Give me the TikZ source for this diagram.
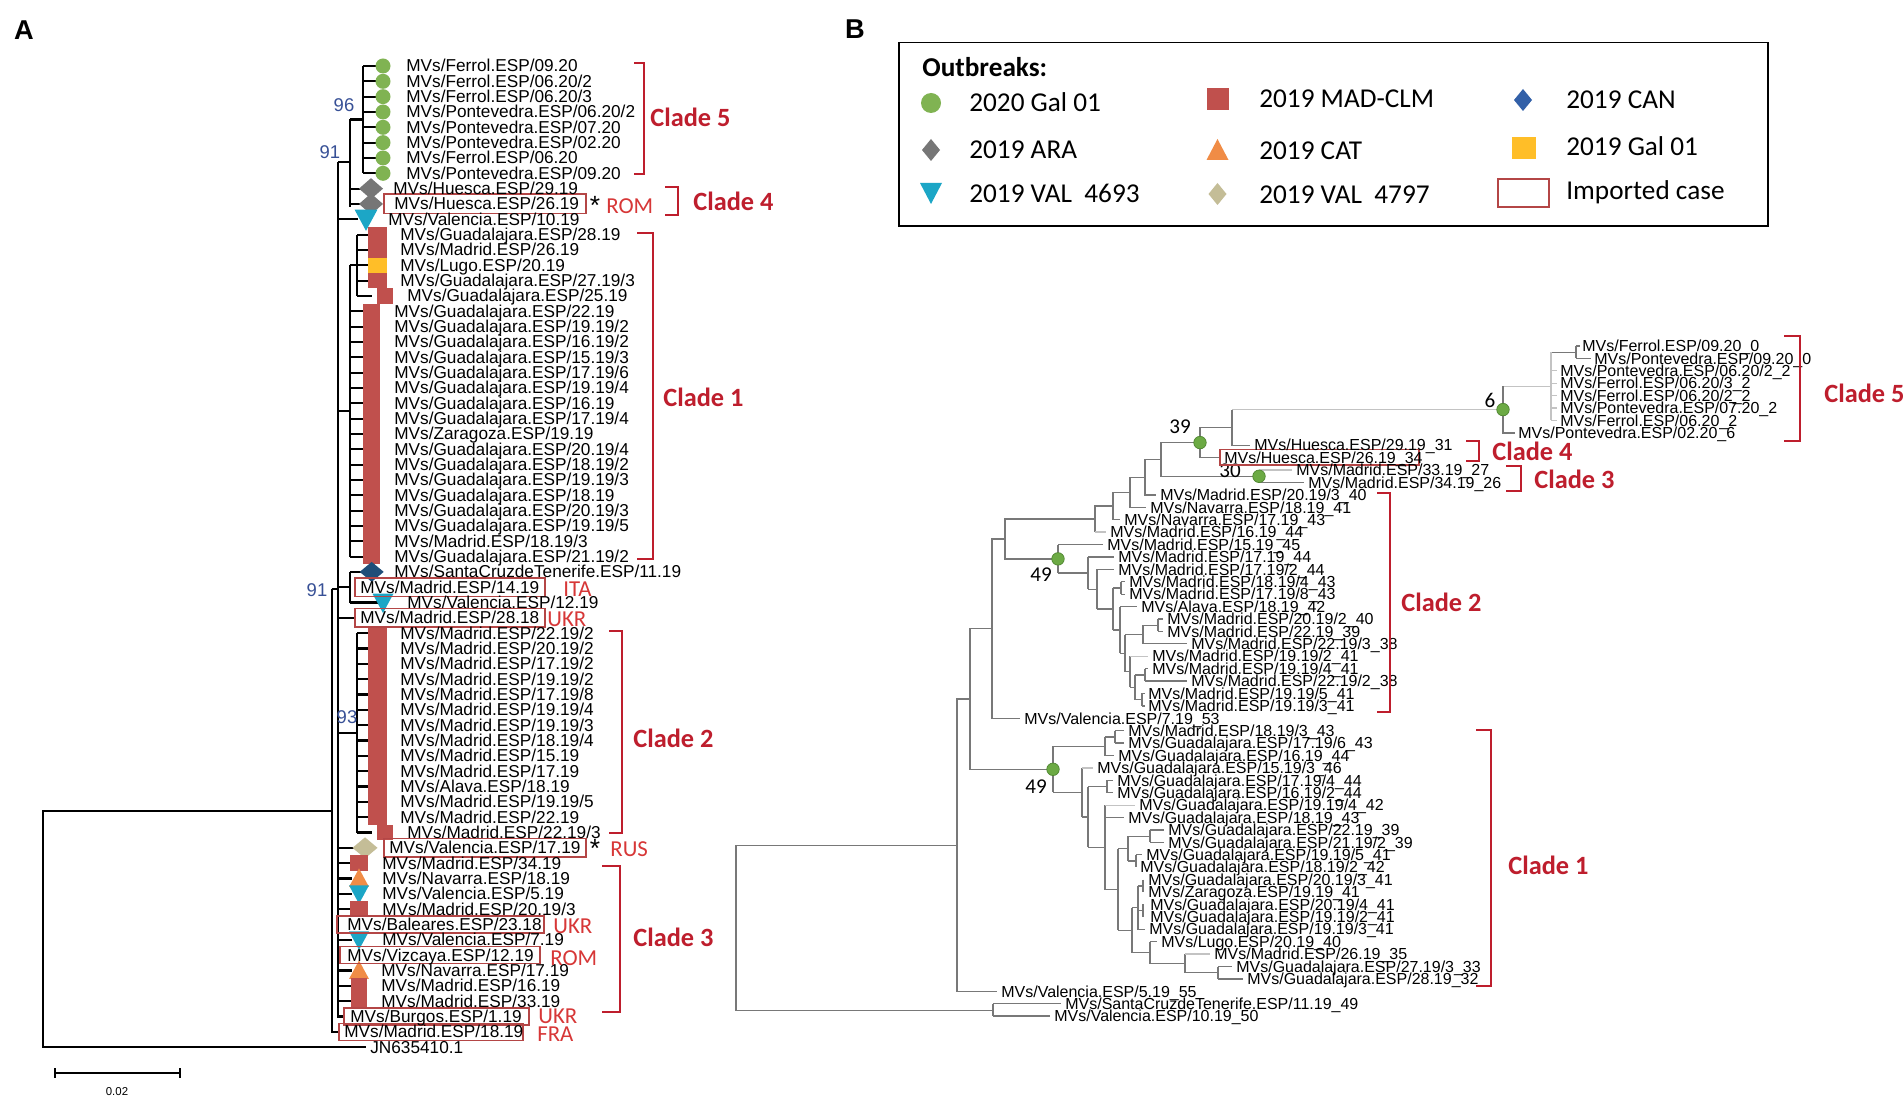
\documentclass[tikz,border=0pt]{standalone}
\usepackage{fontspec}
\setmainfont{Liberation Sans}
\newfontfamily\calfont{Carlito}
\definecolor{cgreen}{RGB}{128,179,82}
\definecolor{cgray}{RGB}{118,118,118}
\definecolor{ccyan}{RGB}{28,166,198}
\definecolor{cred}{RGB}{192,80,77}
\definecolor{cyellow}{RGB}{255,190,40}
\definecolor{cnavy}{RGB}{31,78,121}
\definecolor{cblue}{RGB}{50,96,168}
\definecolor{ctan}{RGB}{196,189,151}
\definecolor{corange}{RGB}{240,140,70}
\definecolor{cdred}{RGB}{190,30,45}
\definecolor{cann}{RGB}{215,55,55}
\definecolor{cbox}{RGB}{180,70,70}
\definecolor{cboot}{RGB}{55,80,150}
\definecolor{cbl}{RGB}{120,120,120}
\definecolor{cbll}{RGB}{195,195,195}
\definecolor{cdot}{RGB}{108,170,68}
\definecolor{cdotb}{RGB}{80,135,50}
\pgfmathdeclarefunction{ra}{1}{\pgfmathparse{66+(#1-1)*15.33}}
\pgfmathdeclarefunction{rb}{1}{\pgfmathparse{346+(#1-1)*12.41}}
\tikzset{
 tA/.style={line width=1.2pt, black},
 tB/.style={line width=0.75pt, cbl},
 tBl/.style={line width=0.75pt, cbll},
 labA/.style={font=\fontsize{9.8}{10}\selectfont, anchor=base west, inner sep=0pt},
 labB/.style={font=\fontsize{9.1}{9.5}\selectfont, anchor=base west, inner sep=0pt},
 boxA/.style={draw=cbox, line width=0.8pt},
 brk/.style={draw=cdred, line width=1.6pt},
 clade/.style={font=\calfont\bfseries\fontsize{15}{18}\selectfont, text=cdred, anchor=west, inner sep=0pt},
 ann/.style={font=\calfont\fontsize{13}{15}\selectfont, text=cann, anchor=west, inner sep=0pt},
 star/.style={font=\fontsize{15}{17}\selectfont, inner sep=0pt},
 boot/.style={font=\fontsize{10.5}{11}\selectfont, text=cboot, inner sep=0pt},
 bootB/.style={font=\calfont\fontsize{12}{14}\selectfont, inner sep=0pt},
 legt/.style={font=\calfont\fontsize{15.5}{18}\selectfont, anchor=base west, inner sep=0pt},
 gdotB/.style={circle, fill=cdot, draw=cdotb, line width=0.4pt, minimum size=0.25cm, inner sep=0pt},
}
\newcommand\leafA[3]{\node[labA] (a#2) at (#1,{ra(#2)+6}) {#3};}
\newcommand\leafB[3]{\node[labB] (b#2) at (#1,{rb(#2)+5.7}) {#3};}
\newcommand\symdia[5]{\fill[#5] ({#1-#3},{ra(#2)}) -- (#1,{ra(#2)-#4}) -- ({#1+#3},{ra(#2)}) -- (#1,{ra(#2)+#4}) -- cycle;}
\newcommand\symtd[4]{\fill[#4] ({#1-#3},{ra(#2)-0.85*#3}) -- ({#1+#3},{ra(#2)-0.85*#3}) -- (#1,{ra(#2)+#3}) -- cycle;}
\newcommand\symtu[4]{\fill[#4] ({#1-#3},{ra(#2)+0.85*#3}) -- ({#1+#3},{ra(#2)+0.85*#3}) -- (#1,{ra(#2)-#3}) -- cycle;}
\newcommand\brkt[4]{\draw[brk] (#2,#3) -- (#1,#3) -- (#1,#4) -- (#2,#4);}
\begin{document}
\begin{tikzpicture}[x=0.02cm,y=-0.02cm]
\fill[white] (0,0) rectangle (1904,1104);
\useasboundingbox (0,0) rectangle (1904,1104);

% ---------------- panel labels
\node[font=\bfseries\fontsize{15.5}{18}\selectfont, inner sep=0pt] (pA) at (24,30) {A};
\node[font=\bfseries\fontsize{15.5}{18}\selectfont, inner sep=0pt] (pB) at (855,29) {B};

% ================= PANEL A tree
\draw[tA] (331.7,810.6) -- (43,810.6) -- (43,{ra(65)}) -- (366,{ra(65)});
\draw[tA] (331.7,589.3) -- (331.7,{ra(64)}) -- (339,{ra(64)});
\draw[tA] (331.7,589.3) -- (338,589.3);
\draw[tA] (338,162) -- (338,{ra(63)}) -- (344,{ra(63)});
% clade 5/4 group
\draw[tA] (338,162) -- (350,162);
\draw[tA] (350,119.5) -- (350,{ra(10)+3});
\draw[tA] (350,119.5) -- (363,119.5);
\draw[tA] (363,{ra(1)}) -- (363,{ra(8)});
\foreach \rr in {1,...,8} \draw[tA] (363,{ra(\rr)}) -- (378,{ra(\rr)});
\draw[tA] (350,{ra(9)}) -- (362,{ra(9)});
\draw[tA] (350,{ra(10)}) -- (362,{ra(10)});
\draw[tA] (338,{ra(11)}) -- (358,{ra(11)});
% clade 1 group
\draw[tA] (338,411) -- (350,411);
\draw[tA] (350,265.3) -- (350,{ra(33)});
\draw[tA] (350,265.3) -- (357,265.3);
\draw[tA] (357,{ra(12)}) -- (357,{ra(16)});
\foreach \rr in {12,...,16} \draw[tA] (357,{ra(\rr)}) -- (372,{ra(\rr)});
\foreach \rr in {17,...,33} \draw[tA] (350,{ra(\rr)}) -- (365,{ra(\rr)});
% Santa Cruz / Madrid 14.19 / Valencia 12.19
\draw[tA] (338,{ra(35)}) -- (350,{ra(35)});
\draw[tA] (350,{ra(34)}) -- (350,{ra(36)});
\draw[tA] (350,{ra(34)}) -- (362,{ra(34)});
\draw[tA] (350,{ra(36)}) -- (378,{ra(36)});
\draw[tA] (338,{ra(37)}) -- (355,{ra(37)});
% clade 2
\draw[tA] (338,732.9) -- (357,732.9);
\draw[tA] (357,{ra(38)}) -- (357,{ra(51)});
\foreach \rr in {38,...,51} \draw[tA] (357,{ra(\rr)}) -- (372,{ra(\rr)});
% clade 3 area
\draw[tA] (338,{ra(52)}) -- (355,{ra(52)});
\foreach \rr in {53,54,55,56,58,60,61,62} \draw[tA] (338,{ra(\rr)}) -- (352,{ra(\rr)});

% bootstrap values
\node[boot] (bs96) at (344,105) {96};
\node[boot] (bs91a) at (330,152) {91};
\node[boot] (bs91b) at (317,590) {91};
\node[boot] (bs93) at (347,717) {93};

% symbols panel A
\foreach \rr in {1,...,8} \fill[cgreen] (383,{ra(\rr)}) circle[radius=0.15cm];
\symdia{371}{9}{12}{10.5}{cgray}
\symdia{371}{10}{12}{10.5}{cgray}
\symtd{366}{11}{11.5}{ccyan}
\fill[cred] (368,{ra(12)-7.7}) rectangle (387,{ra(15)+7.7});
\fill[cyellow] (368,{ra(14)-7.7}) rectangle (387,{ra(14)+7.7});
\fill[cred] (377,{ra(16)-7.7}) rectangle (393,{ra(16)+7.7});
\fill[cred] (362.7,{ra(17)-7.7}) rectangle (380,{ra(33)+7.7});
\symdia{371.7}{34}{12}{10}{cnavy}
\symtd{383}{36}{10.5}{ccyan}
\fill[cred] (368,{ra(38)-7.7}) rectangle (387,{ra(50)+7.7});
\fill[cred] (377,{ra(51)-7.7}) rectangle (393,{ra(51)+7.7});
\symdia{365}{52}{12.5}{10.5}{ctan}
\fill[cred] (350,{ra(53)-8}) rectangle (368,{ra(53)+8});
\symtu{359}{54}{10}{corange}
\symtd{359}{55}{10}{ccyan}
\fill[cred] (350,{ra(56)-8}) rectangle (368,{ra(56)+8});
\symtd{359}{58}{10}{ccyan}
\symtu{359}{60}{10}{corange}
\fill[cred] (351,{ra(61)-8}) rectangle (367,{ra(62)+8});

% imported boxes panel A
\draw[boxA] (384,{ra(10)-9.8}) rectangle (586,{ra(10)+9.8});
\draw[boxA] (355,{ra(35)-9.3}) rectangle (545,{ra(35)+9.3});
\draw[boxA] (355,{ra(37)-9.3}) rectangle (545,{ra(37)+9.3});
\draw[boxA] (384,{ra(52)-9.3}) rectangle (586,{ra(52)+9.3});
\draw[boxA] (337,{ra(57)-8.5}) rectangle (544,{ra(57)+8.5});
\draw[boxA] (340,{ra(59)-8.5}) rectangle (540,{ra(59)+8.5});
\draw[boxA] (344,{ra(63)-8.5}) rectangle (529,{ra(63)+8.5});
\draw[boxA] (339,{ra(64)-8.5}) rectangle (523,{ra(64)+8.5});

% leaves panel A
\leafA{406}{1}{MVs/Ferrol.ESP/09.20}
\leafA{406}{2}{MVs/Ferrol.ESP/06.20/2}
\leafA{406}{3}{MVs/Ferrol.ESP/06.20/3}
\leafA{406}{4}{MVs/Pontevedra.ESP/06.20/2}
\leafA{406}{5}{MVs/Pontevedra.ESP/07.20}
\leafA{406}{6}{MVs/Pontevedra.ESP/02.20}
\leafA{406}{7}{MVs/Ferrol.ESP/06.20}
\leafA{406}{8}{MVs/Pontevedra.ESP/09.20}
\leafA{393}{9}{MVs/Huesca.ESP/29.19}
\leafA{394}{10}{MVs/Huesca.ESP/26.19}
\leafA{388}{11}{MVs/Valencia.ESP/10.19}
\leafA{400}{12}{MVs/Guadalajara.ESP/28.19}
\leafA{400}{13}{MVs/Madrid.ESP/26.19}
\leafA{400}{14}{MVs/Lugo.ESP/20.19}
\leafA{400}{15}{MVs/Guadalajara.ESP/27.19/3}
\leafA{407}{16}{MVs/Guadalajara.ESP/25.19}
\leafA{394}{17}{MVs/Guadalajara.ESP/22.19}
\leafA{394}{18}{MVs/Guadalajara.ESP/19.19/2}
\leafA{394}{19}{MVs/Guadalajara.ESP/16.19/2}
\leafA{394}{20}{MVs/Guadalajara.ESP/15.19/3}
\leafA{394}{21}{MVs/Guadalajara.ESP/17.19/6}
\leafA{394}{22}{MVs/Guadalajara.ESP/19.19/4}
\leafA{394}{23}{MVs/Guadalajara.ESP/16.19}
\leafA{394}{24}{MVs/Guadalajara.ESP/17.19/4}
\leafA{394}{25}{MVs/Zaragoza.ESP/19.19}
\leafA{394}{26}{MVs/Guadalajara.ESP/20.19/4}
\leafA{394}{27}{MVs/Guadalajara.ESP/18.19/2}
\leafA{394}{28}{MVs/Guadalajara.ESP/19.19/3}
\leafA{394}{29}{MVs/Guadalajara.ESP/18.19}
\leafA{394}{30}{MVs/Guadalajara.ESP/20.19/3}
\leafA{394}{31}{MVs/Guadalajara.ESP/19.19/5}
\leafA{394}{32}{MVs/Madrid.ESP/18.19/3}
\leafA{394}{33}{MVs/Guadalajara.ESP/21.19/2}
\leafA{394}{34}{MVs/SantaCruzdeTenerife.ESP/11.19}
\leafA{360}{35}{MVs/Madrid.ESP/14.19}
\leafA{407}{36}{MVs/Valencia.ESP/12.19}
\leafA{360}{37}{MVs/Madrid.ESP/28.18}
\leafA{400}{38}{MVs/Madrid.ESP/22.19/2}
\leafA{400}{39}{MVs/Madrid.ESP/20.19/2}
\leafA{400}{40}{MVs/Madrid.ESP/17.19/2}
\leafA{400}{41}{MVs/Madrid.ESP/19.19/2}
\leafA{400}{42}{MVs/Madrid.ESP/17.19/8}
\leafA{400}{43}{MVs/Madrid.ESP/19.19/4}
\leafA{400}{44}{MVs/Madrid.ESP/19.19/3}
\leafA{400}{45}{MVs/Madrid.ESP/18.19/4}
\leafA{400}{46}{MVs/Madrid.ESP/15.19}
\leafA{400}{47}{MVs/Madrid.ESP/17.19}
\leafA{400}{48}{MVs/Alava.ESP/18.19}
\leafA{400}{49}{MVs/Madrid.ESP/19.19/5}
\leafA{400}{50}{MVs/Madrid.ESP/22.19}
\leafA{407}{51}{MVs/Madrid.ESP/22.19/3}
\leafA{389}{52}{MVs/Valencia.ESP/17.19}
\leafA{382}{53}{MVs/Madrid.ESP/34.19}
\leafA{382}{54}{MVs/Navarra.ESP/18.19}
\leafA{382}{55}{MVs/Valencia.ESP/5.19}
\leafA{382}{56}{MVs/Madrid.ESP/20.19/3}
\leafA{347}{57}{MVs/Baleares.ESP/23.18}
\leafA{382}{58}{MVs/Valencia.ESP/7.19}
\leafA{347}{59}{MVs/Vizcaya.ESP/12.19}
\leafA{381}{60}{MVs/Navarra.ESP/17.19}
\leafA{381}{61}{MVs/Madrid.ESP/16.19}
\leafA{381}{62}{MVs/Madrid.ESP/33.19}
\leafA{350}{63}{MVs/Burgos.ESP/1.19}
\leafA{344}{64}{MVs/Madrid.ESP/18.19}
\leafA{370}{65}{JN635410.1}

% annotations panel A
\node[star] (st1) at (595,{ra(10)+1}) {*};
\node[ann] (an1) at (606,{ra(10)+2}) {ROM};
\node[ann] (an2) at (563,{ra(35)+2}) {ITA};
\node[ann] (an3) at (547,{ra(37)+1}) {UKR};
\node[star] (st2) at (595,{ra(52)+1}) {*};
\node[ann] (an4) at (610,{ra(52)+1}) {RUS};
\node[ann] (an5) at (553,{ra(57)+2}) {UKR};
\node[ann] (an6) at (550,{ra(59)+3}) {ROM};
\node[ann] (an7) at (538,{ra(63)+0}) {UKR};
\node[ann] (an8) at (537,{ra(64)+2}) {FRA};

% clade brackets panel A
\brkt{644}{634}{63}{174}
\brkt{678}{665}{187}{215}
\brkt{653}{637}{233}{559}
\brkt{622}{609}{631}{833}
\brkt{620}{602}{866}{1012}
\node[clade] (ca5) at (650,117) {Clade 5};
\node[clade] (ca4) at (693,201) {Clade 4};
\node[clade] (ca1) at (663,397) {Clade 1};
\node[clade] (ca2) at (633,738) {Clade 2};
\node[clade] (ca3) at (633,937) {Clade 3};

% scale bar
\draw[line width=1.3pt] (55,1073) -- (180,1073);
\draw[line width=0.9pt] (55,1068) -- (55,1078);
\draw[line width=0.9pt] (180,1068) -- (180,1078);
\node[font=\fontsize{6.5}{7}\selectfont, inner sep=0pt] (scl) at (117,1092) {0.02};

% ================= LEGEND
\draw[line width=1.1pt] (898.6,42.5) rectangle (1768,225.9);
\node[font=\calfont\bfseries\fontsize{15.5}{18}\selectfont, anchor=west, inner sep=0pt] (lgt) at (922,67) {Outbreaks:};
\fill[cgreen] (931,103) circle[radius=0.2cm];
\node[legt] (l1) at (969,111.5) {2020 Gal 01};
\fill[cred] (1207,88) rectangle (1229,110);
\node[legt] (l2) at (1259,107.5) {2019 MAD-CLM};
\fill[cblue] (1514,100) -- (1523,89) -- (1532,100) -- (1523,111) -- cycle;
\node[legt] (l3) at (1566,108.5) {2019 CAN};
\fill[cgray] (922,150) -- (931,139) -- (940,150) -- (931,161) -- cycle;
\node[legt] (l4) at (969,158.5) {2019 ARA};
\fill[corange] (1206.5,160) -- (1228.5,160) -- (1217.5,139) -- cycle;
\node[legt] (l5) at (1259,160) {2019 CAT};
\fill[cyellow] (1512,137) rectangle (1536,159);
\node[legt] (l6) at (1566,155.5) {2019 Gal 01};
\fill[ccyan] (920,183) -- (942,183) -- (931,204) -- cycle;
\node[legt] (l7) at (969,202.5) {2019 VAL\ \ 4693};
\fill[ctan] (1208.5,194) -- (1217.5,183) -- (1226.5,194) -- (1217.5,205) -- cycle;
\node[legt] (l8) at (1259,204) {2019 VAL\ \ 4797};
\draw[boxA] (1498,179) rectangle (1549,207);
\node[legt] (l9) at (1566,200) {Imported case};

% ================= PANEL B tree
% clade 5
\draw[tB] (1576,{rb(1)}) -- (1576,{rb(2)});
\draw[tB] (1576,{rb(1)}) -- (1580,{rb(1)});
\draw[tB] (1576,{rb(2)}) -- (1591,{rb(2)});
\draw[tB] (1551,352.2) -- (1576,352.2);
\draw[tBl] (1551,352.2) -- (1551,{rb(7)});
\foreach \rr in {3,...,7} \draw[tBl] (1551,{rb(\rr)}) -- (1557,{rb(\rr)});
\draw[tBl] (1503,386.3) -- (1551,386.3);
\draw[tB] (1503,386.3) -- (1503,{rb(8)}) -- (1515,{rb(8)});
% 39 / 30 groups
\draw[tBl] (1232,409.6) -- (1503,409.6);
\draw[tB] (1232,409.6) -- (1232,{rb(9)}) -- (1250,{rb(9)});
\draw[tB] (1200,427.5) -- (1232,427.5);
\draw[tB] (1200,427.5) -- (1200,{rb(10)}) -- (1220,{rb(10)});
\draw[tBl] (1259,{rb(11)}) -- (1292,{rb(11)});
\draw[tB] (1259,{rb(11)}) -- (1259,{rb(12)}) -- (1304,{rb(12)});
\draw[tB] (1200,442.6) -- (1161,442.6) -- (1161,476.3) -- (1259,476.3);
\draw[tB] (1161,459.5) -- (1145,459.5) -- (1145,{rb(13)}) -- (1156,{rb(13)});
\draw[tB] (1145,477.2) -- (1130,477.2) -- (1130,{rb(14)}) -- (1146,{rb(14)});
\draw[tB] (1130,492.3) -- (1113,492.3) -- (1113,{rb(15)}) -- (1120,{rb(15)});
\draw[tB] (1113,506) -- (1095,506) -- (1095,{rb(16)});
\draw[tBl] (1095,{rb(16)}) -- (1106,{rb(16)});
\draw[tB] (1095,519.1) -- (1005,519.1) -- (1005,558.9) -- (1058,558.9);
% clade 2
\draw[tB] (1058,{rb(17)}) -- (1058,573.1);
\draw[tB] (1058,{rb(17)}) -- (1103,{rb(17)});
\draw[tB] (1058,573.1) -- (1088,573.1);
\draw[tB] (1088,{rb(18)}) -- (1088,589.2);
\draw[tB] (1088,{rb(18)}) -- (1114,{rb(18)});
\draw[tB] (1088,589.2) -- (1097,589.2);
\draw[tB] (1097,{rb(19)}) -- (1097,609);
\draw[tB] (1097,{rb(19)}) -- (1114,{rb(19)});
\draw[tB] (1097,609) -- (1113,609);
\draw[tB] (1113,588) -- (1113,630);
\draw[tB] (1113,588) -- (1121,588);
\draw[tB] (1113,630) -- (1120,630);
\draw[tB] (1121,{rb(20)}) -- (1121,{rb(21)});
\draw[tB] (1121,{rb(20)}) -- (1125,{rb(20)});
\draw[tB] (1121,{rb(21)}) -- (1125,{rb(21)});
\draw[tB] (1120,{rb(22)}) -- (1120,653.2);
\draw[tB] (1120,{rb(22)}) -- (1137,{rb(22)});
\draw[tB] (1120,653.2) -- (1125,653.2);
\draw[tB] (1125,634.6) -- (1125,671.8);
\draw[tB] (1125,634.6) -- (1143,634.6);
\draw[tB] (1125,671.8) -- (1130,671.8);
\draw[tB] (1143,625.3) -- (1143,{rb(25)});
\draw[tB] (1143,625.3) -- (1158,625.3);
\draw[tB] (1143,{rb(25)}) -- (1187,{rb(25)});
\draw[tB] (1158,{rb(23)}) -- (1158,{rb(24)});
\draw[tB] (1158,{rb(23)}) -- (1163,{rb(23)});
\draw[tB] (1158,{rb(24)}) -- (1163,{rb(24)});
\draw[tB] (1130,{rb(26)}) -- (1130,687.4);
\draw[tBl] (1130,{rb(26)}) -- (1148,{rb(26)});
\draw[tB] (1130,687.4) -- (1135,687.4);
\draw[tB] (1135,674.9) -- (1135,699.8);
\draw[tB] (1135,674.9) -- (1145,674.9);
\draw[tB] (1135,699.8) -- (1142,699.8);
\draw[tB] (1145,{rb(27)}) -- (1145,{rb(28)});
\draw[tB] (1145,{rb(27)}) -- (1148,{rb(27)});
\draw[tB] (1145,{rb(28)}) -- (1187,{rb(28)});
\draw[tB] (1142,{rb(29)}) -- (1142,{rb(30)});
\draw[tB] (1142,{rb(29)}) -- (1145,{rb(29)});
\draw[tB] (1142,{rb(30)}) -- (1145,{rb(30)});
% D, F, A, root
\draw[tB] (1005,539) -- (992,539) -- (992,{rb(31)}) -- (1020,{rb(31)});
\draw[tB] (992,628.7) -- (970,628.7) -- (970,769.3) -- (1053,769.3);
\draw[tB] (970,699) -- (957,699) -- (957,{rb(53)}) -- (997,{rb(53)});
\draw[tB] (957,845.3) -- (736,845.3) -- (736,1010.2) -- (993,1010.2);
\draw[tB] (993,{rb(54)}) -- (993,{rb(55)});
\draw[tB] (993,{rb(54)}) -- (1061,{rb(54)});
\draw[tB] (993,{rb(55)}) -- (1050,{rb(55)});
% clade 1
\draw[tB] (1053,746.2) -- (1053,792.4);
\draw[tB] (1053,746.2) -- (1105,746.2);
\draw[tB] (1053,792.4) -- (1082,792.4);
\draw[tB] (1105,736.9) -- (1105,{rb(34)}) -- (1114,{rb(34)});
\draw[tB] (1105,736.9) -- (1115,736.9);
\draw[tB] (1115,{rb(32)}) -- (1115,{rb(33)});
\draw[tB] (1115,{rb(32)}) -- (1124,{rb(32)});
\draw[tB] (1115,{rb(33)}) -- (1124,{rb(33)});
\draw[tB] (1082,{rb(35)}) -- (1082,817);
\draw[tBl] (1082,{rb(35)}) -- (1093,{rb(35)});
\draw[tB] (1082,817) -- (1088,817);
\draw[tB] (1088,786.6) -- (1088,847.3);
\draw[tB] (1088,786.6) -- (1107,786.6);
\draw[tB] (1088,847.3) -- (1105,847.3);
\draw[tB] (1107,{rb(36)}) -- (1107,{rb(37)});
\draw[tB] (1107,{rb(36)}) -- (1113,{rb(36)});
\draw[tB] (1107,{rb(37)}) -- (1113,{rb(37)});
\draw[tB] (1105,{rb(38)}) -- (1105,889.5);
\draw[tBl] (1105,{rb(38)}) -- (1135,{rb(38)});
\draw[tB] (1105,{rb(39)}) -- (1124,{rb(39)});
\draw[tB] (1105,889.5) -- (1118,889.5);
\draw[tB] (1118,848.7) -- (1118,930.2);
\draw[tB] (1118,848.7) -- (1128,848.7);
\draw[tB] (1118,930.2) -- (1132,930.2);
\draw[tB] (1128,836.2) -- (1128,861.1);
\draw[tB] (1128,836.2) -- (1150,836.2);
\draw[tB] (1128,861.1) -- (1136,861.1);
\draw[tB] (1150,{rb(40)}) -- (1150,{rb(41)});
\draw[tB] (1150,{rb(40)}) -- (1164,{rb(40)});
\draw[tB] (1150,{rb(41)}) -- (1164,{rb(41)});
\draw[tB] (1136,{rb(42)}) -- (1136,{rb(43)});
\draw[tB] (1136,{rb(42)}) -- (1142,{rb(42)});
\draw[tB] (1132,907.7) -- (1132,952.7);
\draw[tB] (1132,907.7) -- (1138,907.7);
\draw[tB] (1132,952.7) -- (1150,952.7);
\draw[tB] (1138,885.9) -- (1138,{rb(48)}) -- (1145,{rb(48)});
\draw[tB] (1138,885.9) -- (1143,885.9);
\draw[tB] (1138,910.7) -- (1143,910.7);
\draw[tB] (1143,{rb(44)}) -- (1143,{rb(45)});
\draw[tB] (1143,{rb(46)}) -- (1143,{rb(47)});
\draw[tB] (1150,{rb(49)}) -- (1150,963.5);
\draw[tB] (1150,{rb(49)}) -- (1157,{rb(49)});
\draw[tB] (1150,963.5) -- (1185,963.5);
\draw[tB] (1185,{rb(50)}) -- (1185,972.8);
\draw[tBl] (1185,{rb(50)}) -- (1210,{rb(50)});
\draw[tB] (1185,972.8) -- (1218,972.8);
\draw[tB] (1218,{rb(51)}) -- (1218,{rb(52)});
\draw[tB] (1218,{rb(51)}) -- (1232,{rb(51)});
\draw[tB] (1218,{rb(52)}) -- (1243,{rb(52)});

% green nodes panel B
\node[gdotB] (g6) at (1503,409.6) {};
\node[gdotB] (g39) at (1200,442.6) {};
\node[gdotB] (g30) at (1259,476.3) {};
\node[gdotB] (g49a) at (1058,558.9) {};
\node[gdotB] (g49b) at (1053,769.3) {};
\node[bootB] (n6) at (1490,400) {6};
\node[bootB] (n39) at (1180,427) {39};
\node[bootB] (n30) at (1230,471) {30};
\node[bootB] (n49a) at (1041,575) {49};
\node[bootB] (n49b) at (1036,787) {49};

% imported box panel B
\draw[boxA] (1220,{rb(10)-8}) rectangle (1419,{rb(10)+7.5});

% leaves panel B
\leafB{1582}{1}{MVs/Ferrol.ESP/09.20\_0}
\leafB{1594}{2}{MVs/Pontevedra.ESP/09.20\_0}
\leafB{1560}{3}{MVs/Pontevedra.ESP/06.20/2\_2}
\leafB{1560}{4}{MVs/Ferrol.ESP/06.20/3\_2}
\leafB{1560}{5}{MVs/Ferrol.ESP/06.20/2\_2}
\leafB{1560}{6}{MVs/Pontevedra.ESP/07.20\_2}
\leafB{1560}{7}{MVs/Ferrol.ESP/06.20\_2}
\leafB{1518}{8}{MVs/Pontevedra.ESP/02.20\_6}
\leafB{1254}{9}{MVs/Huesca.ESP/29.19\_31}
\leafB{1224}{10}{MVs/Huesca.ESP/26.19\_34}
\leafB{1296}{11}{MVs/Madrid.ESP/33.19\_27}
\leafB{1308}{12}{MVs/Madrid.ESP/34.19\_26}
\leafB{1160}{13}{MVs/Madrid.ESP/20.19/3\_40}
\leafB{1150}{14}{MVs/Navarra.ESP/18.19\_41}
\leafB{1124}{15}{MVs/Navarra.ESP/17.19\_43}
\leafB{1110}{16}{MVs/Madrid.ESP/16.19\_44}
\leafB{1107}{17}{MVs/Madrid.ESP/15.19\_45}
\leafB{1118}{18}{MVs/Madrid.ESP/17.19\_44}
\leafB{1118}{19}{MVs/Madrid.ESP/17.19/2\_44}
\leafB{1129}{20}{MVs/Madrid.ESP/18.19/4\_43}
\leafB{1129}{21}{MVs/Madrid.ESP/17.19/8\_43}
\leafB{1141}{22}{MVs/Alava.ESP/18.19\_42}
\leafB{1167}{23}{MVs/Madrid.ESP/20.19/2\_40}
\leafB{1167}{24}{MVs/Madrid.ESP/22.19\_39}
\leafB{1191}{25}{MVs/Madrid.ESP/22.19/3\_38}
\leafB{1152}{26}{MVs/Madrid.ESP/19.19/2\_41}
\leafB{1152}{27}{MVs/Madrid.ESP/19.19/4\_41}
\leafB{1191}{28}{MVs/Madrid.ESP/22.19/2\_38}
\leafB{1148}{29}{MVs/Madrid.ESP/19.19/5\_41}
\leafB{1148}{30}{MVs/Madrid.ESP/19.19/3\_41}
\leafB{1024}{31}{MVs/Valencia.ESP/7.19\_53}
\leafB{1128}{32}{MVs/Madrid.ESP/18.19/3\_43}
\leafB{1128}{33}{MVs/Guadalajara.ESP/17.19/6\_43}
\leafB{1118}{34}{MVs/Guadalajara.ESP/16.19\_44}
\leafB{1097}{35}{MVs/Guadalajara.ESP/15.19/3\_46}
\leafB{1117}{36}{MVs/Guadalajara.ESP/17.19/4\_44}
\leafB{1117}{37}{MVs/Guadalajara.ESP/16.19/2\_44}
\leafB{1139}{38}{MVs/Guadalajara.ESP/19.19/4\_42}
\leafB{1128}{39}{MVs/Guadalajara.ESP/18.19\_43}
\leafB{1168}{40}{MVs/Guadalajara.ESP/22.19\_39}
\leafB{1168}{41}{MVs/Guadalajara.ESP/21.19/2\_39}
\leafB{1146}{42}{MVs/Guadalajara.ESP/19.19/5\_41}
\leafB{1140}{43}{MVs/Guadalajara.ESP/18.19/2\_42}
\leafB{1148}{44}{MVs/Guadalajara.ESP/20.19/3\_41}
\leafB{1148}{45}{MVs/Zaragoza.ESP/19.19\_41}
\leafB{1150}{46}{MVs/Guadalajara.ESP/20.19/4\_41}
\leafB{1150}{47}{MVs/Guadalajara.ESP/19.19/2\_41}
\leafB{1149}{48}{MVs/Guadalajara.ESP/19.19/3\_41}
\leafB{1161}{49}{MVs/Lugo.ESP/20.19\_40}
\leafB{1214}{50}{MVs/Madrid.ESP/26.19\_35}
\leafB{1236}{51}{MVs/Guadalajara.ESP/27.19/3\_33}
\leafB{1247}{52}{MVs/Guadalajara.ESP/28.19\_32}
\leafB{1001}{53}{MVs/Valencia.ESP/5.19\_55}
\leafB{1065}{54}{MVs/SantaCruzdeTenerife.ESP/11.19\_49}
\leafB{1054}{55}{MVs/Valencia.ESP/10.19\_50}

% clade brackets panel B
\brkt{1800}{1784}{336}{441}
\brkt{1479}{1466}{441}{461}
\brkt{1521}{1506}{466}{491}
\brkt{1390}{1377}{493}{712}
\brkt{1491}{1476}{730}{986}
\node[clade] (cb5) at (1824,393) {Clade 5};
\node[clade] (cb4) at (1492,451) {Clade 4};
\node[clade] (cb3) at (1534,479) {Clade 3};
\node[clade] (cb2) at (1401,602) {Clade 2};
\node[clade] (cb1) at (1508,865) {Clade 1};
\end{tikzpicture}
\end{document}
